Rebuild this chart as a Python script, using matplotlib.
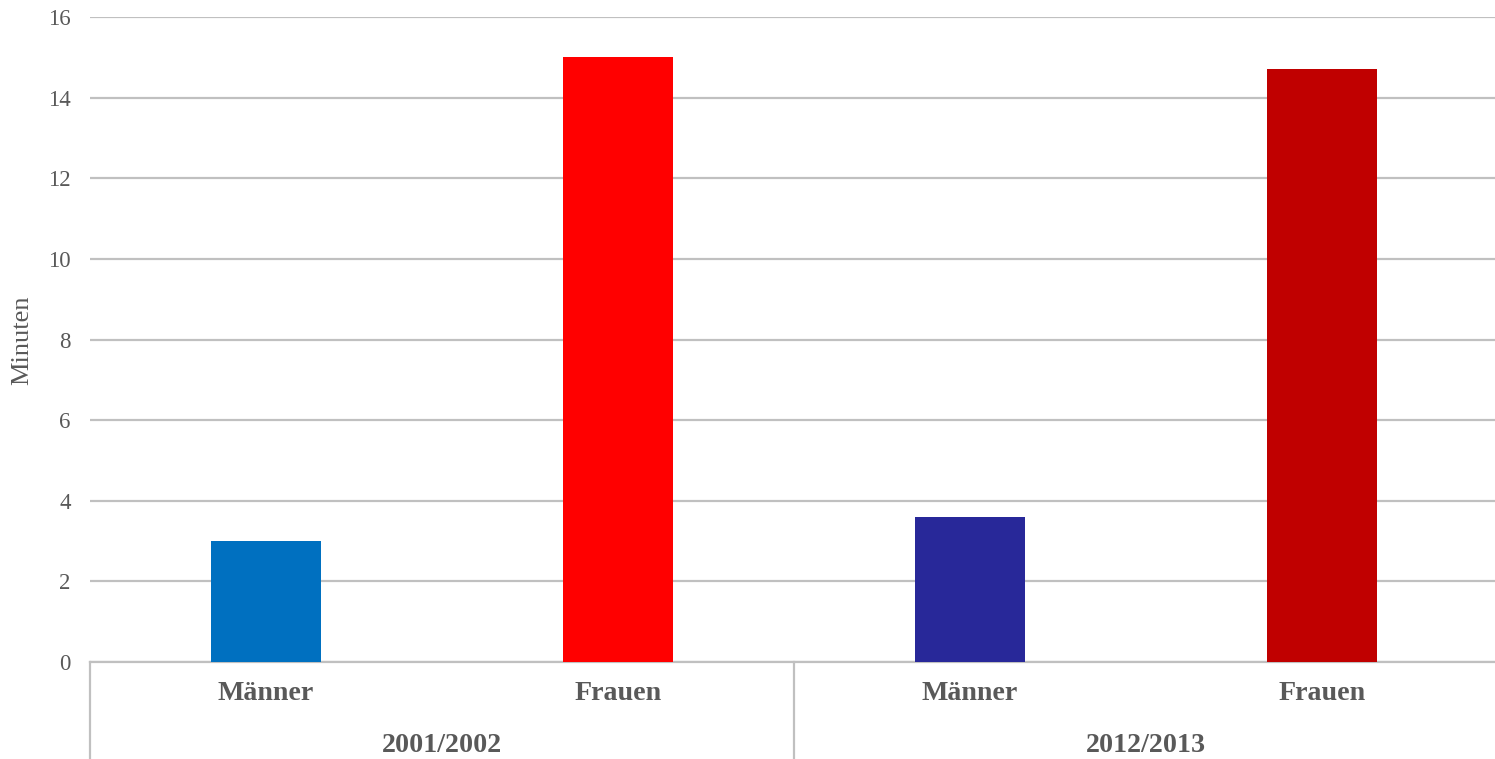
import matplotlib.pyplot as plt
from matplotlib.transforms import blended_transform_factory

groups = ["2001/2002", "2012/2013"]
subcats = ["Männer", "Frauen", "Männer", "Frauen"]
values = [3.0, 15.0, 3.6, 14.7]
colors = ["#0070C0", "#FF0000", "#282899", "#C00000"]

W, H = 1495, 759
plt.rcParams["font.family"] = ["Liberation Serif", "DejaVu Serif"]
fig = plt.figure(figsize=(W / 100, H / 100), dpi=100)
ax = fig.add_axes([90 / W, (H - 662) / H, 1408 / W, 645 / H])

x = list(range(len(values)))
ax.bar(x, values, width=0.3125, color=colors, zorder=3)
ax.set_xlim(-0.5, 3.5)
ax.set_ylim(0, 16)
ax.set_yticks(range(0, 17, 2))
ax.yaxis.grid(True, color="#C0C0C0", linewidth=1.6, zorder=0)
ax.set_xticks([])
ax.tick_params(axis="y", length=0, pad=14, labelsize=16.5, labelcolor="#595959")
for s in ["top", "right", "left"]:
    ax.spines[s].set_visible(False)
ax.spines["bottom"].set_color("#C0C0C0")
ax.spines["bottom"].set_linewidth(1.6)
ax.set_axisbelow(True)

fig.text(22 / W, 1 - 340 / H, "Minuten", rotation=90, ha="center", va="center",
         fontsize=19, color="#595959")

# two-level category axis
tr = blended_transform_factory(ax.transData, fig.transFigure)
for i, lab in enumerate(subcats):
    ax.text(i, 1 - 694 / H, lab, transform=tr, ha="center", va="center",
            fontsize=20.2, fontweight="bold", color="#595959")
for j, g in enumerate(groups):
    ax.text(2 * j + 0.5, 1 - 745 / H, g, transform=tr, ha="center", va="center",
            fontsize=20.2, fontweight="bold", color="#595959")
for xs in [-0.5, 1.5, 3.5]:
    ax.plot([xs, xs], [0, 1 - 662 / H], transform=tr, color="#C0C0C0",
            linewidth=1.6, clip_on=False)

fig.savefig("out.png", dpi=100)
